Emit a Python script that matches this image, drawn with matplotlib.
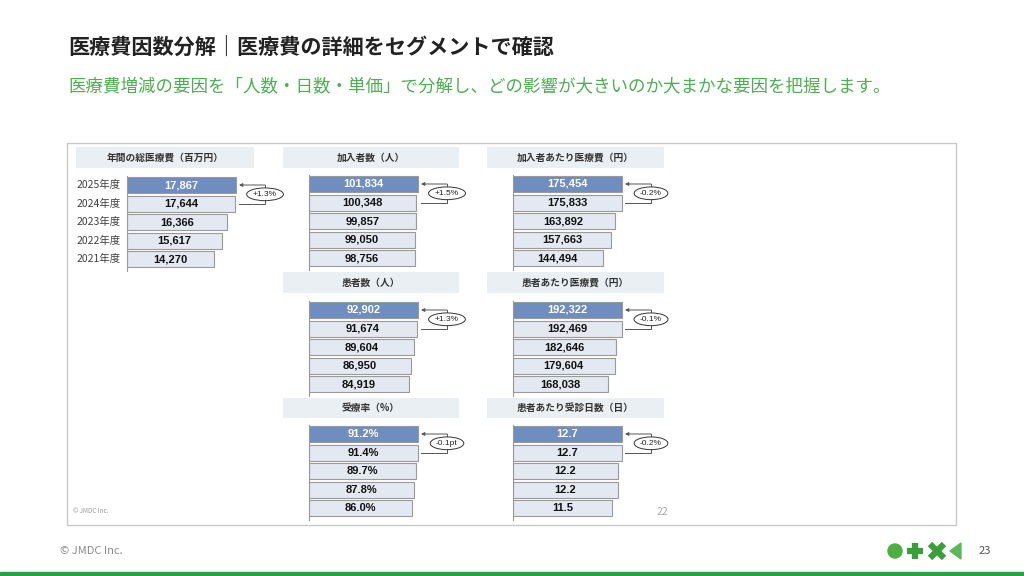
import matplotlib
matplotlib.use("Agg")
import matplotlib.pyplot as plt
from matplotlib.patches import Rectangle, Circle, Polygon

plt.rcParams["font.family"] = ["Noto Sans CJK JP", "DejaVu Sans"]

W, H = 1024, 576

years = ["2025年度", "2024年度", "2023年度", "2022年度", "2021年度"]

titles = [
    "年間の総医療費（百万円）",
    "加入者数（人）",
    "加入者あたり医療費（円）",
    "患者数（人）",
    "患者あたり医療費（円）",
    "受療率（%）",
    "患者あたり受診日数（日）",
]
values = [
    [17867, 17644, 16366, 15617, 14270],
    [101834, 100348, 99857, 99050, 98756],
    [175454, 175833, 163892, 157663, 144494],
    [92902, 91674, 89604, 86950, 84919],
    [192322, 192469, 182646, 179604, 168038],
    [91.2, 91.4, 89.7, 87.8, 86.0],
    [12.7, 12.7, 12.2, 12.2, 11.5],
]
labels = [
    ["17,867", "17,644", "16,366", "15,617", "14,270"],
    ["101,834", "100,348", "99,857", "99,050", "98,756"],
    ["175,454", "175,833", "163,892", "157,663", "144,494"],
    ["92,902", "91,674", "89,604", "86,950", "84,919"],
    ["192,322", "192,469", "182,646", "179,604", "168,038"],
    ["91.2%", "91.4%", "89.7%", "87.8%", "86.0%"],
    ["12.7", "12.7", "12.2", "12.2", "11.5"],
]
changes = ["+1.3%", "+1.5%", "-0.2%", "+1.3%", "-0.1%", "-0.1pt", "-0.2%"]

# panel layout in pixels: bar left, first row centre, header box (x0, x1, y0, y1)
layout = [
    (127, 185, (76, 254, 147, 168)),
    (309, 184, (283, 459, 147, 168)),
    (513, 184, (487, 664, 147, 168)),
    (309, 310, (283, 459, 272, 293)),
    (513, 310, (487, 664, 272, 293)),
    (309, 434, (283, 459, 398, 418)),
    (513, 434, (487, 664, 398, 418)),
]

DARK = "#6f8dbf"
LIGHT = "#e3e8f1"
EDGE = "#9a9a9a"
HEAD = "#e9eff2"
GREEN = "#4caf50"

fig = plt.figure(figsize=(W / 100, H / 100), dpi=100)
bg = fig.add_axes([0, 0, 1, 1])
bg.set_xlim(0, W)
bg.set_ylim(H, 0)
bg.axis("off")

bg.text(68, 47, "医療費因数分解｜医療費の詳細をセグメントで確認", fontsize=15.2,
        fontweight="bold", color="#222222", va="center", ha="left")
bg.text(68, 86, "医療費増減の要因を「人数・日数・単価」で分解し、どの影響が大きいのか大まかな要因を把握します。",
        fontsize=12.6, color=GREEN, va="center", ha="left")

bg.add_patch(Rectangle((67, 143), 889, 382, fill=False, ec="#c8c8c8", lw=1))
bg.text(73, 511, "© JMDC Inc.", fontsize=4.5, color="#999999", va="center")
bg.text(662, 512, "22", fontsize=7.5, color="#aaaaaa", va="center", ha="center")

# footer
bg.text(60, 551, "© JMDC Inc.", fontsize=8, color="#8a8a8a", va="center")
bg.add_patch(Circle((895, 551), 7, color="#4caf3f"))
bg.plot([907, 923], [551, 551], color="#3a9e3a", lw=4.5, solid_capstyle="butt")
bg.plot([915, 915], [543, 559], color="#3a9e3a", lw=4.5, solid_capstyle="butt")
bg.plot([930, 944], [544, 558], color="#3a9e3a", lw=4.5, solid_capstyle="butt")
bg.plot([930, 944], [558, 544], color="#3a9e3a", lw=4.5, solid_capstyle="butt")
bg.add_patch(Polygon([[950, 551], [961, 543], [961, 559]], closed=True, color="#5cb85c"))
bg.text(985, 551, "23", fontsize=8, color="#555555", va="center", ha="center")
bg.add_patch(Rectangle((0, 572), W, 4, color="#2e9e46"))

# year labels for the first panel
for i, yr in enumerate(years):
    bg.text(77, 185 + i * 18.6, yr, fontsize=7.5, color="#404040", va="center", ha="left")

ROW = 18.6
AX_W = 170
MAX_W = 109

for k in range(len(titles)):
    left, y0, (hx0, hx1, hy0, hy1) = layout[k]
    bg.add_patch(Rectangle((hx0, hy0), hx1 - hx0, hy1 - hy0, color=HEAD, lw=0))
    bg.text((hx0 + hx1) / 2, (hy0 + hy1) / 2, titles[k], fontsize=7, fontweight="bold",
            color="#333333", ha="center", va="center")

    vals = values[k]
    top = y0 - ROW / 2
    ax = fig.add_axes([left / W, 1 - (top + 5 * ROW + 2) / H, AX_W / W, (5 * ROW + 2) / H])
    s = max(vals) / MAX_W  # data units per pixel
    ax.set_xlim(0, AX_W * s)
    ax.set_ylim(4.5 + 2 / ROW, -0.5)
    ax.patch.set_alpha(0)
    for sp in ["top", "right", "bottom"]:
        ax.spines[sp].set_visible(False)
    ax.spines["left"].set_color("#999999")
    ax.spines["left"].set_linewidth(0.8)
    ax.set_xticks([])
    ax.set_yticks([])

    colors = [DARK] + [LIGHT] * 4
    ax.barh(range(5), vals, height=16 / ROW, color=colors, edgecolor=EDGE, linewidth=0.8)
    for i, v in enumerate(vals):
        ax.text(v / 2, i, labels[k][i], fontsize=8, fontweight="bold",
                family=["Liberation Sans", "Noto Sans CJK JP"],
                color="white" if i == 0 else "#111111", ha="center", va="center")

    # change annotation: connector from 2024 bar up to 2025 bar
    x_start = max(vals[0], vals[1]) + 3 * s
    x_mid = max(vals) + 29 * s
    ax.plot([x_start, x_mid, x_mid], [1, 1, 0], color="#555555", lw=0.7, clip_on=False)
    ax.annotate("", xy=(x_start, 0), xytext=(x_mid, 0),
                arrowprops=dict(arrowstyle="-|>", color="#555555", lw=0.7,
                                mutation_scale=5, shrinkA=0, shrinkB=0),
                annotation_clip=False)
    ax.text(x_mid, 0.5, changes[k], fontsize=6, color="#222222", ha="center", va="center",
            family=["Liberation Sans", "Noto Sans CJK JP"],
            bbox=dict(boxstyle="ellipse,pad=0.12", fc="white", ec="#333333", lw=0.7))

fig.savefig("out.png", dpi=100)
